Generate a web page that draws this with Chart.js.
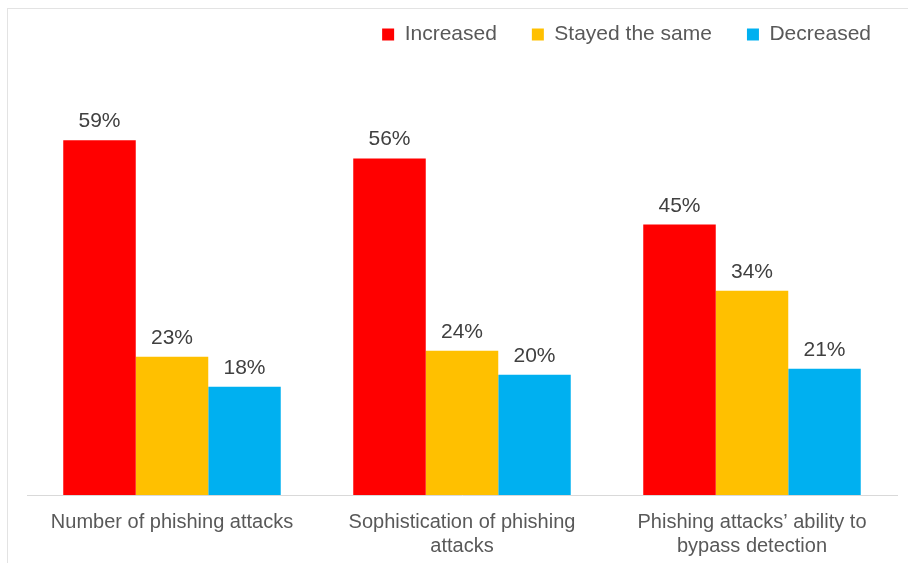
<!DOCTYPE html>
<html>
<head>
<meta charset="utf-8">
<script src="https://cdn.jsdelivr.net/npm/chart.js@4/dist/chart.umd.min.js"></script>
<style>
  html, body { margin: 0; padding: 0; background: #fff; }
  #wrap { position: relative; width: 908px; height: 563px; }
  #frame { position: absolute; left: 7px; top: 8px; right: -2px; bottom: -2px; border-left: 1px solid #e3e3e3; border-top: 1px solid #e3e3e3; pointer-events: none; }
  canvas { position: absolute; left: 0; top: 0; }
</style>
</head>
<body>
<div id="wrap">
  <canvas id="c" width="908" height="563"></canvas>
  <div id="frame"></div>
</div>
<script>
const categories = [
  "Number of phishing attacks",
  ["Sophistication of phishing", "attacks"],
  ["Phishing attacks\u2019 ability to", "bypass detection"]
];
const seriesNames = ["Increased", "Stayed the same", "Decreased"];
const increased = [59, 56, 45];
const stayedSame = [23, 24, 34];
const decreased = [18, 20, 21];
const colors = ["#FF0000", "#FFC000", "#00B0F0"];

const valueLabels = {
  id: 'valueLabels',
  afterDatasetsDraw(chart) {
    const ctx = chart.ctx;
    ctx.save();
    ctx.font = '21px "Liberation Sans", Arial, sans-serif';
    ctx.fillStyle = '#404040';
    ctx.textAlign = 'center';
    ctx.textBaseline = 'alphabetic';
    chart.data.datasets.forEach((ds, i) => {
      const meta = chart.getDatasetMeta(i);
      meta.data.forEach((bar, j) => {
        ctx.fillText(ds.data[j] + '%', bar.x, bar.y - 13);
      });
    });
    ctx.restore();
  }
};

new Chart(document.getElementById('c'), {
  type: 'bar',
  data: {
    labels: categories,
    datasets: [
      { label: seriesNames[0], data: increased, backgroundColor: colors[0] },
      { label: seriesNames[1], data: stayedSame, backgroundColor: colors[1] },
      { label: seriesNames[2], data: decreased, backgroundColor: colors[2] }
    ]
  },
  options: {
    responsive: false,
    animation: false,
    layout: { padding: { left: 27, right: 2, top: -11, bottom: -10 } },
    datasets: { bar: { categoryPercentage: 0.75, barPercentage: 1.0 } },
    plugins: {
      legend: {
        position: 'top',
        align: 'end',
        labels: {
          boxWidth: 12,
          boxHeight: 12,
          padding: 35,
          color: '#595959',
          font: { family: '"Liberation Sans", Arial, sans-serif', size: 21 }
        }
      },
      tooltip: { enabled: false }
    },
    scales: {
      x: {
        grid: { display: false, drawTicks: false },
        border: { display: true, color: '#D9D9D9', width: 1 },
        ticks: {
          color: '#595959',
          padding: 15,
          maxRotation: 0,
          font: { family: '"Liberation Sans", Arial, sans-serif', size: 20, lineHeight: 1.2 }
        }
      },
      y: {
        position: 'right',
        min: 0,
        max: 73.2,
        grid: { display: false, drawTicks: false },
        border: { display: false },
        ticks: { display: false },
        afterFit(scale) { scale.width = 9; }
      }
    }
  },
  plugins: [valueLabels]
});
</script>
</body>
</html>
